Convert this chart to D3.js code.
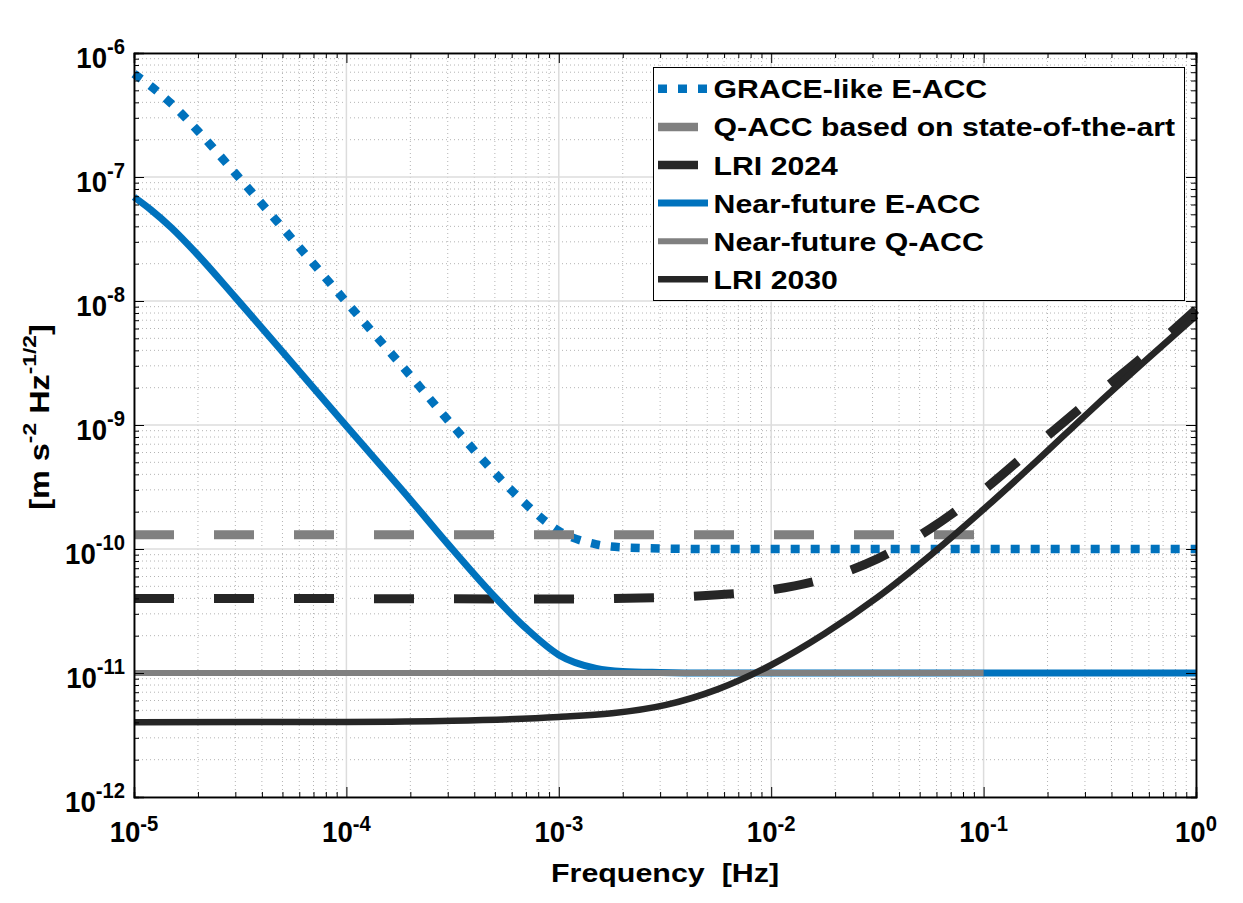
<!DOCTYPE html>
<html>
<head>
<meta charset="utf-8">
<script src="https://cdn.jsdelivr.net/npm/d3@7"></script>
<style>
	body {margin: 0; background: #fff;}
	text {font-family: "Liberation Sans", Arial, sans-serif; font-weight: bold; fill: #000; white-space: pre;}
</style>
</head>
<body>
<svg id="chart" width="1243" height="903"></svg>
<script>
// Values. Frequency in Hz, noise in m s^-2 Hz^-1/2.
var accFreq = [1e-5, 1.2e-5, 1.5e-5, 2e-5, 3e-5, 5e-5, 1e-4, 2e-4, 3e-4, 5e-4, 7e-4,
	1e-3, 1.5e-3, 2e-3, 3e-3, 5e-3, 1e-2, 1e-1, 1];
var graceEacc = [6.8e-7, 5.4e-7, 3.9e-7, 2.35e-7, 1.07e-7, 3.9e-8, 9.8e-9, 2.5e-9, 1.1e-9, 4.1e-10, 2.3e-10,
	1.4e-10, 1.09e-10, 1.03e-10, 1.01e-10, 1.0e-10, 1.0e-10, 1.0e-10, 1.0e-10];
var nearEacc = [6.9e-8, 5.45e-8, 3.9e-8, 2.35e-8, 1.07e-8, 3.9e-9, 9.8e-10, 2.5e-10, 1.1e-10, 4.1e-11, 2.3e-11,
	1.4e-11, 1.09e-11, 1.03e-11, 1.01e-11, 1.0e-11, 1.0e-11, 1.0e-11, 1.0e-11];
var qaccFreq = [1e-5, 1e-1];
var qaccState = [1.3e-10, 1.3e-10];
var nearQacc = [1e-11, 1e-11];
var lri2024Freq = [1e-5, 1e-4, 1e-3, 3.16e-3, 5.62e-3, 1e-2, 1.78e-2, 3.16e-2, 5.62e-2, 1e-1, 1.78e-1, 3.16e-1, 5.62e-1, 1];
var lri2024 = [3.98e-11, 3.98e-11, 3.95e-11, 4.07e-11, 4.27e-11, 4.68e-11, 5.75e-11, 8.32e-11, 1.46e-10, 2.99e-10, 6.92e-10, 1.58e-9, 3.55e-9, 8.51e-9];
var lri2030Freq = [1e-5, 1e-4, 3.16e-4, 1e-3, 1.78e-3, 3.16e-3, 5.62e-3, 1e-2, 1.78e-2, 3.16e-2, 5.62e-2, 1e-1, 1.78e-1, 3.16e-1, 5.62e-1, 1];
var lri2030 = [4.0e-12, 4.03e-12, 4.12e-12, 4.42e-12, 4.73e-12, 5.5e-12, 7.41e-12, 1.16e-11, 2.07e-11, 4.07e-11, 8.91e-11, 2.09e-10, 5.13e-10, 1.29e-9, 3.16e-9, 7.59e-9];
var seriesNames = ['GRACE-like E-ACC', 'Q-ACC based on state-of-the-art', 'LRI 2024',
	'Near-future E-ACC', 'Near-future Q-ACC', 'LRI 2030'];
var xTickExp = [-5, -4, -3, -2, -1, 0];
var yTickExp = [-12, -11, -10, -9, -8, -7, -6];

// NB: 'top' is taken by window.top, so plot edges get their own names.
var svg = d3.select('#chart'),
		plotL = 134, plotR = 1196, plotT = 53, plotB = 797;

var x = d3.scaleLog().domain([1e-5, 1]).range([plotL, plotR]),
		y = d3.scaleLog().domain([1e-12, 1e-6]).range([plotB, plotT]);

function zip(f, v) {return f.map(function(d, i) {return [d, v[i]];});}

var series = [
	{name: seriesNames[0], data: zip(accFreq, graceEacc), color: '#0072bd', width: 8.5, dash: '9,11'},
	{name: seriesNames[1], data: zip(qaccFreq, qaccState), color: '#808080', width: 9, dash: '40,40'},
	{name: seriesNames[2], data: zip(lri2024Freq, lri2024), color: '#262626', width: 9, dash: '40,40'},
	{name: seriesNames[3], data: zip(accFreq, nearEacc), color: '#0072bd', width: 7, dash: null},
	{name: seriesNames[4], data: zip(qaccFreq, nearQacc), color: '#808080', width: 6, dash: null},
	{name: seriesNames[5], data: zip(lri2030Freq, lri2030), color: '#262626', width: 6.5, dash: null}];

// Minor values: 2..9 times each decade.
function minors(lo, hi) {
	var out = [];
	for (var e = lo; e < hi; e++) {
		for (var m = 2; m < 10; m++) {out.push(m * Math.pow(10, e));}}
	return out;}
var xMajor = xTickExp.map(function(e) {return Math.pow(10, e);}),
		yMajor = yTickExp.map(function(e) {return Math.pow(10, e);}),
		xMinor = minors(-5, 0),
		yMinor = minors(-12, -6);

// Grid.
var grid = svg.append('g').attr('class', 'grid');
grid.selectAll('.xminor').data(xMinor).enter().append('line')
	.attr('x1', x).attr('x2', x).attr('y1', plotT).attr('y2', plotB)
	.attr('stroke', '#b4b4b4').attr('stroke-width', 1).attr('stroke-dasharray', '1,3');
grid.selectAll('.yminor').data(yMinor).enter().append('line')
	.attr('y1', y).attr('y2', y).attr('x1', plotL).attr('x2', plotR)
	.attr('stroke', '#b4b4b4').attr('stroke-width', 1).attr('stroke-dasharray', '1,3');
grid.selectAll('.xmajor').data(xMajor).enter().append('line')
	.attr('x1', x).attr('x2', x).attr('y1', plotT).attr('y2', plotB)
	.attr('stroke', '#dcdcdc').attr('stroke-width', 1.5);
grid.selectAll('.ymajor').data(yMajor).enter().append('line')
	.attr('y1', y).attr('y2', y).attr('x1', plotL).attr('x2', plotR)
	.attr('stroke', '#dcdcdc').attr('stroke-width', 1.5);

// Curves.
var line = d3.line()
	.x(function(d) {return x(d[0]);})
	.y(function(d) {return y(d[1]);})
	.curve(d3.curveMonotoneX);
svg.append('g').selectAll('path').data(series).enter().append('path')
	.attr('d', function(d) {return line(d.data);})
	.attr('fill', 'none')
	.attr('stroke', function(d) {return d.color;})
	.attr('stroke-width', function(d) {return d.width;})
	.attr('stroke-dasharray', function(d) {return d.dash;});

// Axes: ticks point inward on all four sides.
function noLabel() {return '';}
svg.append('g').attr('transform', 'translate(0,' + plotB + ')')
	.call(d3.axisBottom(x).tickValues(xMajor).tickSize(-10).tickFormat(noLabel));
svg.append('g').attr('transform', 'translate(0,' + plotB + ')')
	.call(d3.axisBottom(x).tickValues(xMinor).tickSize(-5).tickFormat(noLabel));
svg.append('g').attr('transform', 'translate(0,' + plotT + ')')
	.call(d3.axisTop(x).tickValues(xMajor).tickSize(-10).tickFormat(noLabel));
svg.append('g').attr('transform', 'translate(0,' + plotT + ')')
	.call(d3.axisTop(x).tickValues(xMinor).tickSize(-5).tickFormat(noLabel));
svg.append('g').attr('transform', 'translate(' + plotL + ',0)')
	.call(d3.axisLeft(y).tickValues(yMajor).tickSize(-10).tickFormat(noLabel));
svg.append('g').attr('transform', 'translate(' + plotL + ',0)')
	.call(d3.axisLeft(y).tickValues(yMinor).tickSize(-5).tickFormat(noLabel));
svg.append('g').attr('transform', 'translate(' + plotR + ',0)')
	.call(d3.axisRight(y).tickValues(yMajor).tickSize(-10).tickFormat(noLabel));
svg.append('g').attr('transform', 'translate(' + plotR + ',0)')
	.call(d3.axisRight(y).tickValues(yMinor).tickSize(-5).tickFormat(noLabel));
svg.selectAll('.domain').attr('stroke', '#000').attr('stroke-width', 1.5);
svg.selectAll('.tick line').attr('stroke', '#000').attr('stroke-width', 1);

// Tick labels as 10^e, slightly narrowed like the original font.
var xLabels = svg.append('g').selectAll('text').data(xTickExp).enter().append('text')
	.attr('transform', function(e) {return 'translate(' + x(Math.pow(10, e)) + ',' + (plotB + 45) + ') scale(0.92,1)';})
	.attr('text-anchor', 'middle')
	.style('font-size', '30px')
	.text('10');
xLabels.append('tspan').attr('dy', -11).style('font-size', '22px').text(function(e) {return String(e);});

var yLabels = svg.append('g').selectAll('text').data(yTickExp).enter().append('text')
	.attr('transform', function(e) {return 'translate(' + (plotL - 9) + ',' + (y(Math.pow(10, e)) + 15) + ') scale(0.92,1)';})
	.attr('text-anchor', 'end')
	.style('font-size', '30px')
	.text('10');
yLabels.append('tspan').attr('dy', -14).style('font-size', '22px').text(function(e) {return String(e);});

// Axis titles.
svg.append('text')
	.attr('transform', 'translate(' + ((plotL + plotR) / 2) + ',882) scale(1.17,1)')
	.attr('text-anchor', 'middle')
	.style('font-size', '26px')
	.text('Frequency  [Hz]');

var ylab = svg.append('text')
	.attr('transform', 'translate(49,417) rotate(-90) scale(1.2,1)')
	.attr('text-anchor', 'middle')
	.style('font-size', '27px');
ylab.append('tspan').text('[m s');
ylab.append('tspan').attr('dy', -13).style('font-size', '19px').text('-2');
ylab.append('tspan').attr('dy', 13).text(' Hz');
ylab.append('tspan').attr('dy', -13).style('font-size', '19px').text('-1/2');
ylab.append('tspan').attr('dy', 13).text(']');

// Legend.
var legend = svg.append('g');
legend.append('rect')
	.attr('x', 653.5).attr('y', 67.5).attr('width', 531).attr('height', 233)
	.attr('fill', '#fff').attr('stroke', '#000').attr('stroke-width', 1);
var items = legend.selectAll('.item').data(series).enter().append('g')
	.attr('class', 'item')
	.attr('transform', function(d, i) {return 'translate(0,' + (98.3 + i * 38.1) + ')';});
items.append('line')
	.attr('x1', 658).attr('x2', 708).attr('y1', -9.5).attr('y2', -9.5)
	.attr('stroke', function(d) {return d.color;})
	.attr('stroke-width', function(d) {return d.dash ? Math.min(d.width, 8.5) : d.width;})
	.attr('stroke-dasharray', function(d) {return d.dash;});
items.append('text')
	.attr('transform', 'translate(713.6,0) scale(1.14,1)')
	.style('font-size', '26.5px')
	.text(function(d) {return d.name;});
</script>
</body>
</html>
